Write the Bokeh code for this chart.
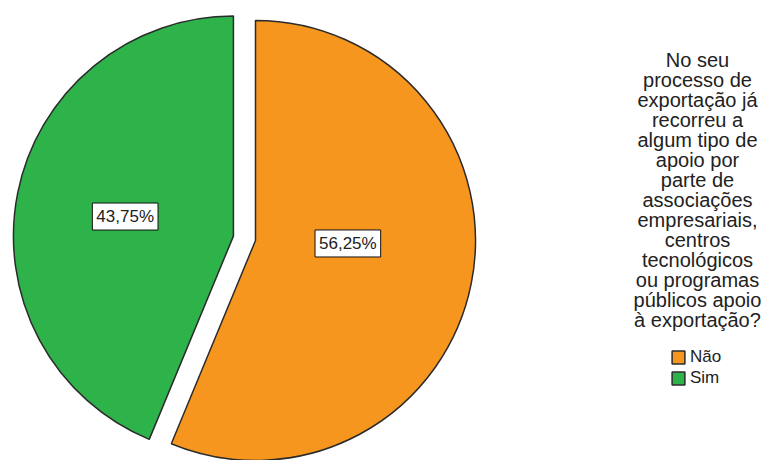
import math
from bokeh.plotting import figure
from bokeh.models import Range1d, ColumnDataSource, Label, Legend, LegendItem
from bokeh.embed import file_html
from bokeh.resources import INLINE
from bokeh.core.properties import value

# ---- data ----
categories = ["Não", "Sim"]
percentages = [56.25, 43.75]
label_texts = ["56,25%", "43,75%"]
legend_title_lines = [
    "No seu", "processo de", "exportação já", "recorreu a", "algum tipo de",
    "apoio por", "parte de", "associações", "empresariais,", "centros",
    "tecnológicos", "ou programas", "públicos apoio", "à exportação?",
]

# ---- style ----
colors = ["#F7961E", "#2DB34A"]
exploded = [False, True]
label_r_frac = [0.42, 0.50]
label_angle_shift = [9.4, 1.0]

W, H = 761, 460
CX, CY = 255, 220
R = 220
EXPLODE = 22.5
FONT = "Liberation Sans"

p = figure(width=W, height=H, output_backend="svg", toolbar_location=None,
           x_range=Range1d(0, W), y_range=Range1d(0, H), min_border=0)
p.axis.visible = False
p.grid.visible = False
p.outline_line_color = None
p.background_fill_color = "white"
p.border_fill_color = "white"

xs, ys, starts, ends, lx, ly = [], [], [], [], [], []
cum = 90.0
for i, v in enumerate(percentages):
    end = cum
    start = cum - v / 100.0 * 360.0
    cum = start
    mid = math.radians((start + end) / 2.0)
    off = EXPLODE if exploded[i] else 0.0
    cx = CX + off * math.cos(mid)
    cy = CY + off * math.sin(mid)
    xs.append(cx); ys.append(cy)
    starts.append(math.radians(start)); ends.append(math.radians(end))
    la = mid + math.radians(label_angle_shift[i])
    lx.append(cx + R * label_r_frac[i] * math.cos(la))
    ly.append(cy + R * label_r_frac[i] * math.sin(la))

src = ColumnDataSource(dict(x=xs, y=ys, start=starts, end=ends, color=colors,
                            cat=categories, lx=lx, ly=ly, txt=label_texts))

renderer = p.wedge(x="x", y="y", radius=R, start_angle="start", end_angle="end",
                   fill_color="color", line_color="#2b2b2b", line_width=1.5,
                   source=src)

p.text(x="lx", y="ly", text="txt", source=src,
       text_align="center", text_baseline="middle",
       text_font=value(FONT), text_font_size="17px", text_color="#222222",
       background_fill_color="white", border_line_color="#111111",
       border_line_width=1, padding=4)

title = Label(x=697, y=H - 48, text="\n".join(legend_title_lines),
              text_align="center", text_baseline="top",
              text_font=FONT, text_font_size="20px", text_color="#222222",
              text_line_height=0.91)
p.add_layout(title)

legend = Legend(items=[LegendItem(label=categories[i], renderers=[renderer], index=i)
                       for i in range(len(categories))],
                location=(670, 72), orientation="vertical",
                glyph_width=16, glyph_height=16, label_height=16, spacing=1,
                label_standoff=4, padding=0, margin=0,
                label_text_font=FONT, label_text_font_size="17px",
                label_text_color="#222222",
                border_line_color=None, background_fill_alpha=0)
p.add_layout(legend)

open("out.html", "w").write(file_html(p, INLINE))
